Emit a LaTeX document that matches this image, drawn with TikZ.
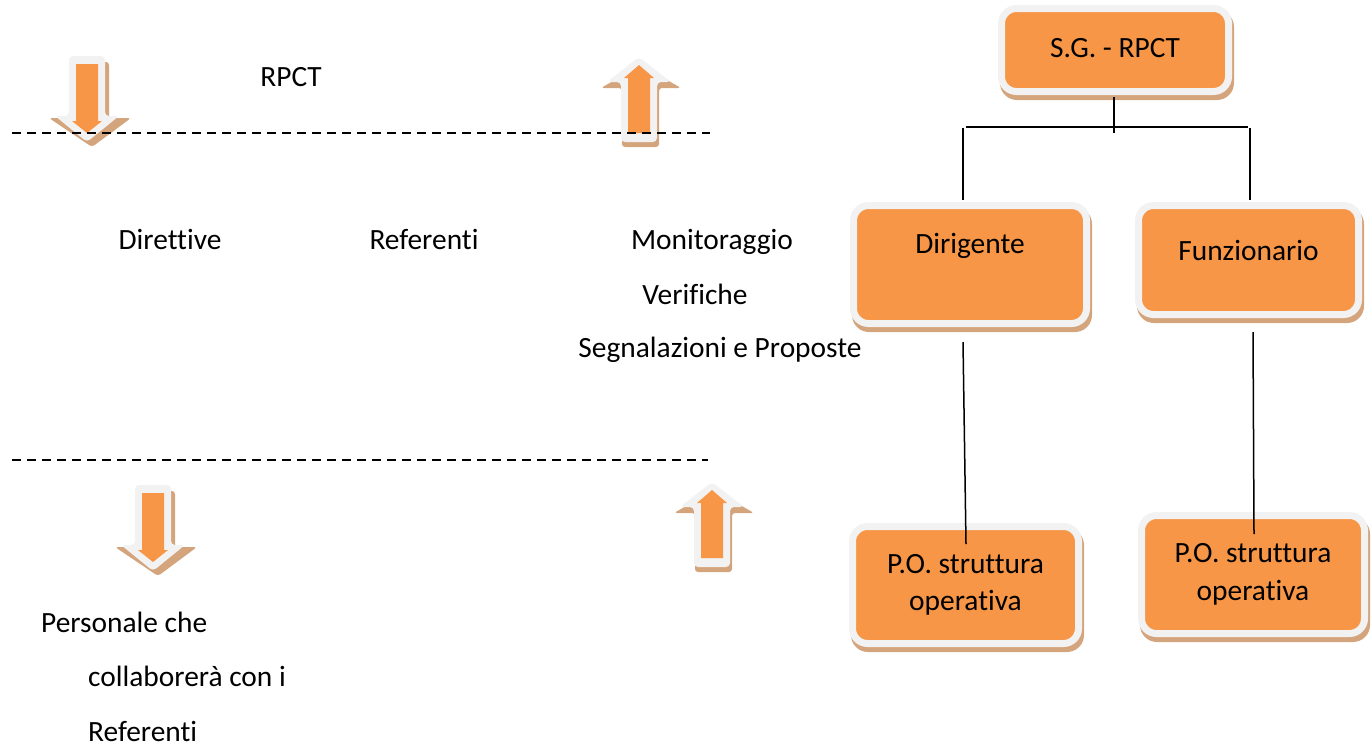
\documentclass[tikz,border=0pt]{standalone}
\usepackage{fontspec}
\setmainfont{Carlito}[Ligatures=NoCommon]
\usetikzlibrary{calc,backgrounds}
\definecolor{boxorange}{HTML}{F79646}
\definecolor{boxwhite}{HTML}{F2F2F2}
\definecolor{shadowtan}{HTML}{D4A47C}
\newcommand{\myfs}{\fontsize{29.4}{37.5}\selectfont}
\tikzset{
  box/.style={rectangle, rounded corners=15pt, fill=boxorange, draw=boxwhite,
    line width=7pt, outer sep=0pt, inner sep=0pt, align=center, font=\myfs, text=black},
  lbl/.style={font=\myfs, anchor=base, inner sep=0pt, text=black},
  conn/.style={draw=black, line width=1.5pt},
  dashline/.style={draw=black, line width=2pt, dash pattern=on 9pt off 6pt},
  pics/downarr/.style={code={
    \fill[shadowtan, rounded corners=3pt] (-14,6) -- (22,6) -- (22,62) -- (44,62) -- (5,91) -- (-38,62) -- (-14,62) -- cycle;
    \fill[boxwhite, rounded corners=4pt] (-18,0) -- (18,0) -- (18,60) -- (32,60) -- (0,86) -- (-32,60) -- (-18,60) -- cycle;
    \fill[boxorange] (-11,8) -- (11,8) -- (11,65) -- (15,65) -- (0,77) -- (-15,65) -- (-11,65) -- cycle;
  }},
  pics/uparr/.style={code={
    \fill[shadowtan, rounded corners=3pt] (2,8) -- (42,31) -- (20,31) -- (20,90) -- (-17,90) -- (-17,31) -- (-38,31) -- cycle;
    \fill[boxwhite, rounded corners=4pt] (0,0) -- (32,25) -- (18,25) -- (18,85) -- (-18,85) -- (-18,25) -- (-32,25) -- cycle;
    \fill[boxorange] (0,8) -- (15,21) -- (11,21) -- (11,76) -- (-11,76) -- (-11,21) -- (-15,21) -- cycle;
  }}
}
\begin{document}
\begin{tikzpicture}[x=1pt, y=-1pt]
\useasboundingbox (0,0) rectangle (1372,748);

% arrows
\pic at (87,56) {downarr};
\pic at (153,485) {downarr};
\pic at (639,57) {uparr};
\pic at (712,482) {uparr};

% dashed separators
\coordinate (d1a) at (12,133);
\coordinate (d1b) at (710,133);
\coordinate (d2a) at (12,460);
\coordinate (d2b) at (708,460);
\draw[dashline] (d1a) -- (d1b);
\draw[dashline] (d2a) -- (d2b);

% texts
\node[lbl] (rpct) at (291,86) {RPCT};
\node[lbl] (dirt) at (170,249) {Direttive};
\node[lbl] (ref) at (424,249) {Referenti};
\node[lbl] (mon) at (712,249) {Monitoraggio};
\node[lbl] (ver) at (695,304) {Verifiche};
\node[lbl] (seg) at (720,357) {Segnalazioni e Proposte};
\node[lbl, anchor=base west] (pers) at (41,632) {Personale che};
\node[lbl, anchor=base west] (coll) at (88,686) {collaborerà con i};
\node[lbl, anchor=base west] (refb) at (88,741) {Referenti};

% org chart boxes
\node[box, minimum width=227pt, minimum height=83pt, text height=26pt, text depth=12pt] (sg) at (1115,50) {S.G. - RPCT};
\node[box, minimum width=233pt, minimum height=118pt, text height=20pt, text depth=43pt] (dir) at (970,264.5) {Dirigente};
\node[box, minimum width=220pt, minimum height=109pt, text height=20pt, text depth=20pt] (fun) at (1248.5,260) {Funzionario};
\node[box, minimum width=226pt, minimum height=117pt] (po1) at (965.5,585) {P.O. struttura\\operativa};
\node[box, minimum width=223pt, minimum height=118pt] (po2) at (1253,574.5) {P.O. struttura\\operativa};

\begin{scope}[on background layer]
  \foreach \n in {sg,dir,fun,po1,po2}
    \fill[shadowtan, rounded corners=17pt] ($(\n.north west)+(-1.5,1.5)$) rectangle ($(\n.south east)+(5.5,8.5)$);
\end{scope}

% connectors
\coordinate (jt) at (1114,133);
\coordinate (hl) at (966,127);
\coordinate (hr) at (1248,127);
\draw[conn] ($(sg.south)+(-1,5.5)$) -- (jt);
\draw[conn] (hl) -- (hr);
\draw[conn] ($(dir.north)+(-7,-77.5)$) -- ($(dir.north)+(-7,-5.5)$);
\draw[conn] ($(fun.north)+(1.5,-77.5)$) -- ($(fun.north)+(1.5,-5.5)$);
\draw[conn] ($(dir.south)+(-7,18.5)$) -- ($(po1.north)+(0.5,17.5)$);
\draw[conn] ($(fun.south)+(4.5,17.5)$) -- ($(po2.north)+(1,18.5)$);
\end{tikzpicture}
\end{document}
